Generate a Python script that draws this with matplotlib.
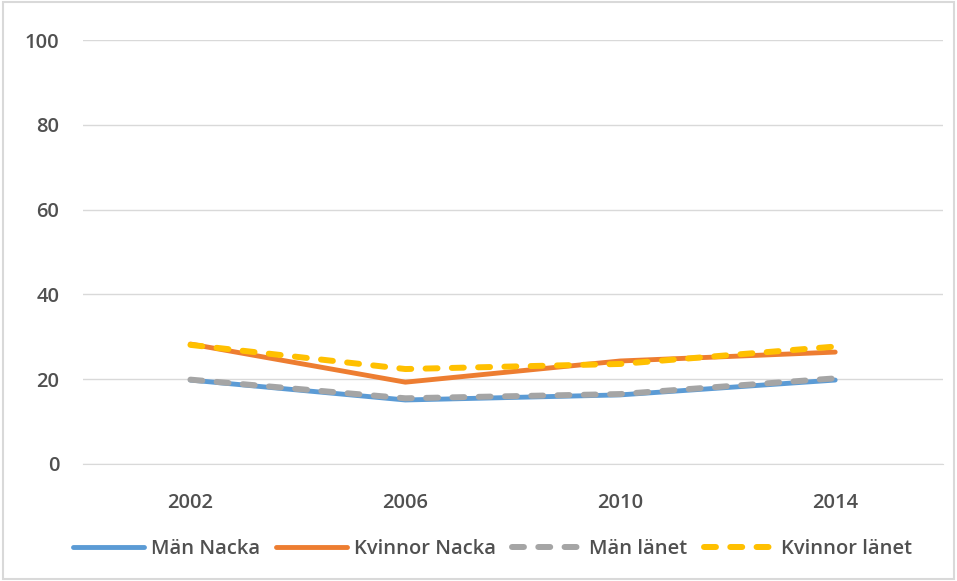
import matplotlib
matplotlib.use("Agg")
import matplotlib.pyplot as plt
from matplotlib.patches import Rectangle

years = ["2002", "2006", "2010", "2014"]
man_nacka = [19.8, 15.1, 16.3, 19.8]
kvinnor_nacka = [28.3, 19.3, 24.3, 26.4]
man_lanet = [19.9, 15.5, 16.5, 20.2]
kvinnor_lanet = [28.1, 22.4, 23.6, 27.7]
yticks = [0, 20, 40, 60, 80, 100]

plt.rcParams['font.family'] = ['Open Sans', 'DejaVu Sans']

fig = plt.figure(figsize=(9.57, 5.81), dpi=100)
ax = fig.add_axes([0.0867, 0.2014, 0.8983, 0.7296])

x = list(range(len(years)))
ax.plot(x, man_nacka, color="#5B9BD5", lw=3.5, label="Män Nacka", solid_capstyle="round", zorder=3)
ax.plot(x, kvinnor_nacka, color="#ED7D31", lw=3.5, label="Kvinnor Nacka", solid_capstyle="round", zorder=3)
ax.plot(x, man_lanet, color="#A5A5A5", lw=4.3, ls=(0, (2.0, 2.4)), label="Män länet", dash_capstyle="round", zorder=4)
ax.plot(x, kvinnor_lanet, color="#FFC000", lw=4.3, ls=(0, (2.0, 2.4)), label="Kvinnor länet", dash_capstyle="round", zorder=4)

ax.set_xlim(-0.5, len(years) - 0.5)
ax.set_ylim(0, 100)
ax.set_xticks(x)
ax.set_xticklabels(years)
ax.set_yticks(yticks)
ax.grid(axis="y", color="#D9D9D9", lw=1)
ax.set_axisbelow(True)
for s in ["top", "right", "left"]:
    ax.spines[s].set_visible(False)
ax.spines["bottom"].set_color("#D9D9D9")
ax.tick_params(axis="both", length=0, labelsize=14.5, labelcolor="#505050")
ax.tick_params(axis="y", pad=17)
ax.tick_params(axis="x", pad=21)
for lbl in ax.get_xticklabels() + ax.get_yticklabels():
    lbl.set_fontweight("semibold")

leg = fig.legend(loc="center", bbox_to_anchor=(0.515, 0.055), ncol=4, frameon=False,
                 fontsize=14.5, handlelength=3.5, columnspacing=0.8, handletextpad=0.35)
for t in leg.get_texts():
    t.set_color("#505050")
    t.set_fontweight("semibold")

fig.patches.append(Rectangle((0.003, 0.003), 0.994, 0.994, transform=fig.transFigure,
                             fill=False, edgecolor="#D9D9D9", lw=1.5))

fig.savefig("out.png", dpi=100)
